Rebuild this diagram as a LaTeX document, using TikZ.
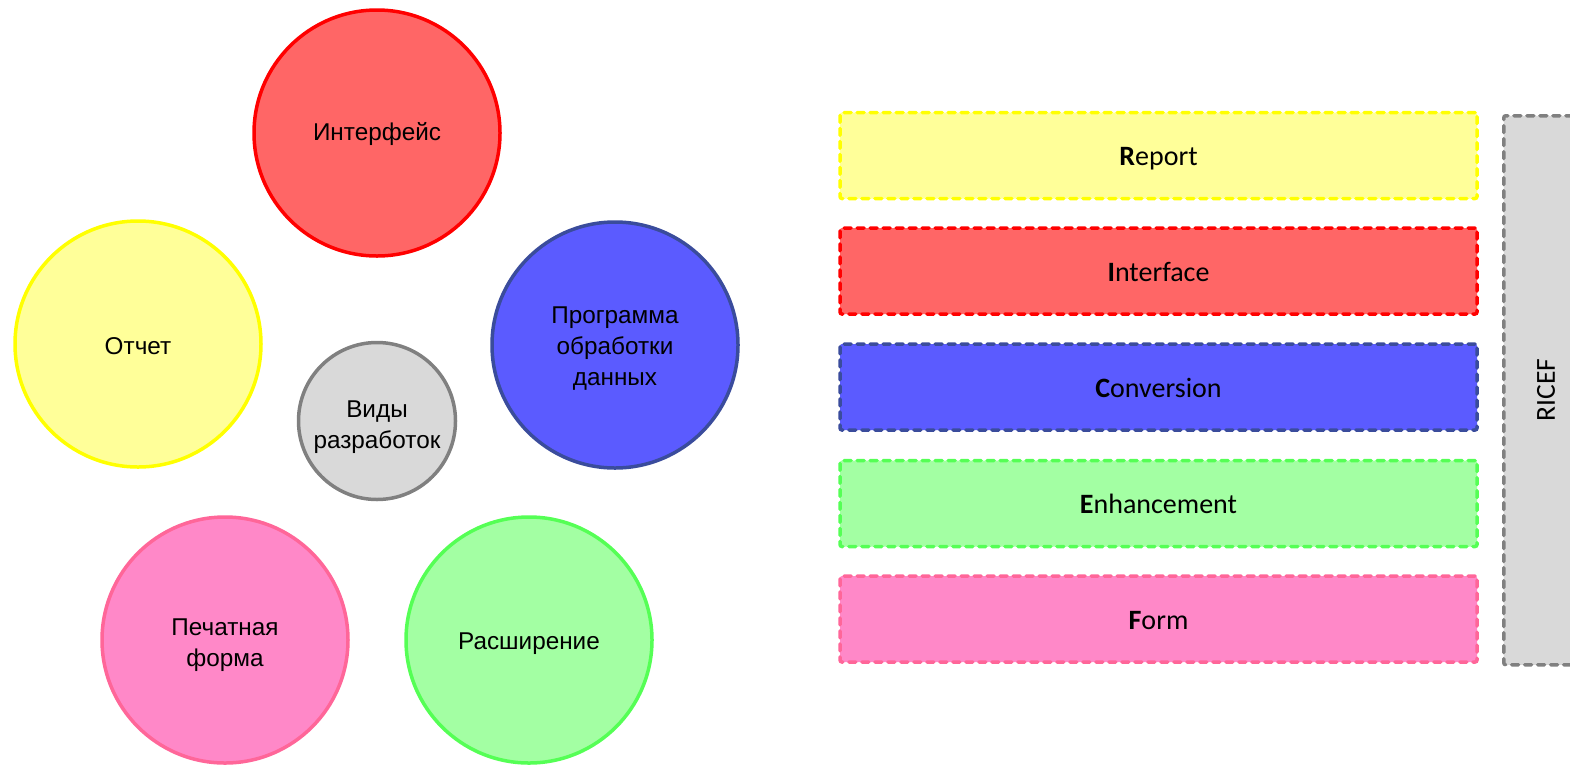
\documentclass[tikz,border=0pt]{standalone}
\usepackage{fontspec}
\setmainfont{Liberation Sans}
\newfontfamily\boxfont{Carlito}
\definecolor{redF}{HTML}{FF6666}\definecolor{redD}{HTML}{FF0000}
\definecolor{yelF}{HTML}{FFFF99}\definecolor{yelD}{HTML}{FFFF00}
\definecolor{bluF}{HTML}{5B5BFF}\definecolor{bluD}{HTML}{3A4C9C}
\definecolor{grnF}{HTML}{A3FFA3}\definecolor{grnD}{HTML}{55FF55}
\definecolor{pnkF}{HTML}{FF88C8}\definecolor{pnkD}{HTML}{FF6699}
\definecolor{gryF}{HTML}{D9D9D9}\definecolor{gryD}{HTML}{808080}
\newcommand{\boxtext}[1]{\raisebox{-10pt}[0pt][0pt]{#1}}
\begin{document}
\begin{tikzpicture}[x=1pt,y=-1pt,
  bubble/.style={circle,line width=3.5pt,minimum size=#1,inner sep=0pt},
  ctext/.style={align=center,inner sep=0pt,font=\fontsize{24.3}{31}\selectfont},
  typebox/.style={draw,rectangle,rounded corners=2pt,line width=3.5pt,dash pattern=on 7pt off 6pt,
    line cap=round,minimum width=637pt,minimum height=86pt,inner sep=0pt,
    font=\boxfont\fontsize{28}{32}\selectfont}]
\useasboundingbox (0,0) rectangle (1570,764);
% circles
\node[bubble=246pt,draw=redD,fill=redF] (int) at (377,133) {};
\node[bubble=246pt,draw=yelD,fill=yelF] (otch) at (138,344) {};
\node[bubble=246pt,draw=bluD,fill=bluF] (prog) at (615,345) {};
\node[bubble=157pt,draw=gryD,fill=gryF] (vid) at (377,421) {};
\node[bubble=246pt,draw=pnkD,fill=pnkF] (pech) at (225,640) {};
\node[bubble=246pt,draw=grnD,fill=grnF] (rash) at (529,640) {};
\node[ctext] (intT) at (377,133.5) {Интерфейс};
\node[ctext] (otchT) at (138,346) {Отчет};
\node[ctext] (progT) at (615,349) {Программа\\обработки\\данных};
\node[ctext] (vidT) at (377,427.5) {Виды\\разработок};
\node[ctext] (pechT) at (225,645) {Печатная\\форма};
\node[ctext] (rashT) at (529,643.5) {Расширение};
% boxes
\node[typebox,draw=yelD,fill=yelF] (r) at (1158.5,155.5) {\boxtext{\textbf{R}eport}};
\node[typebox,draw=redD,fill=redF] (i) at (1158.5,271) {\boxtext{\textbf{I}nterface}};
\node[typebox,draw=bluD,fill=bluF] (c) at (1158.5,387) {\boxtext{\textbf{C}onversion}};
\node[typebox,draw=grnD,fill=grnF] (e) at (1158.5,503.5) {\boxtext{\textbf{E}nhancement}};
\node[typebox,draw=pnkD,fill=pnkF] (f) at (1158.5,619) {\boxtext{\textbf{F}orm}};
% RICEF bar
\begin{scope}
\clip (0,0) rectangle (1570,764);
\node[draw=gryD,fill=gryF,rectangle,rounded corners=2pt,line width=3.5pt,dash pattern=on 7pt off 6pt,
  line cap=round,minimum width=110pt,minimum height=549pt,inner sep=0pt,anchor=north west]
  (ricef) at (1502,114) {};
\end{scope}
\node[rotate=90,font=\boxfont\fontsize{27.5}{32}\selectfont] (ricefl) at (1546,390) {RICEF};
\end{tikzpicture}
\end{document}
